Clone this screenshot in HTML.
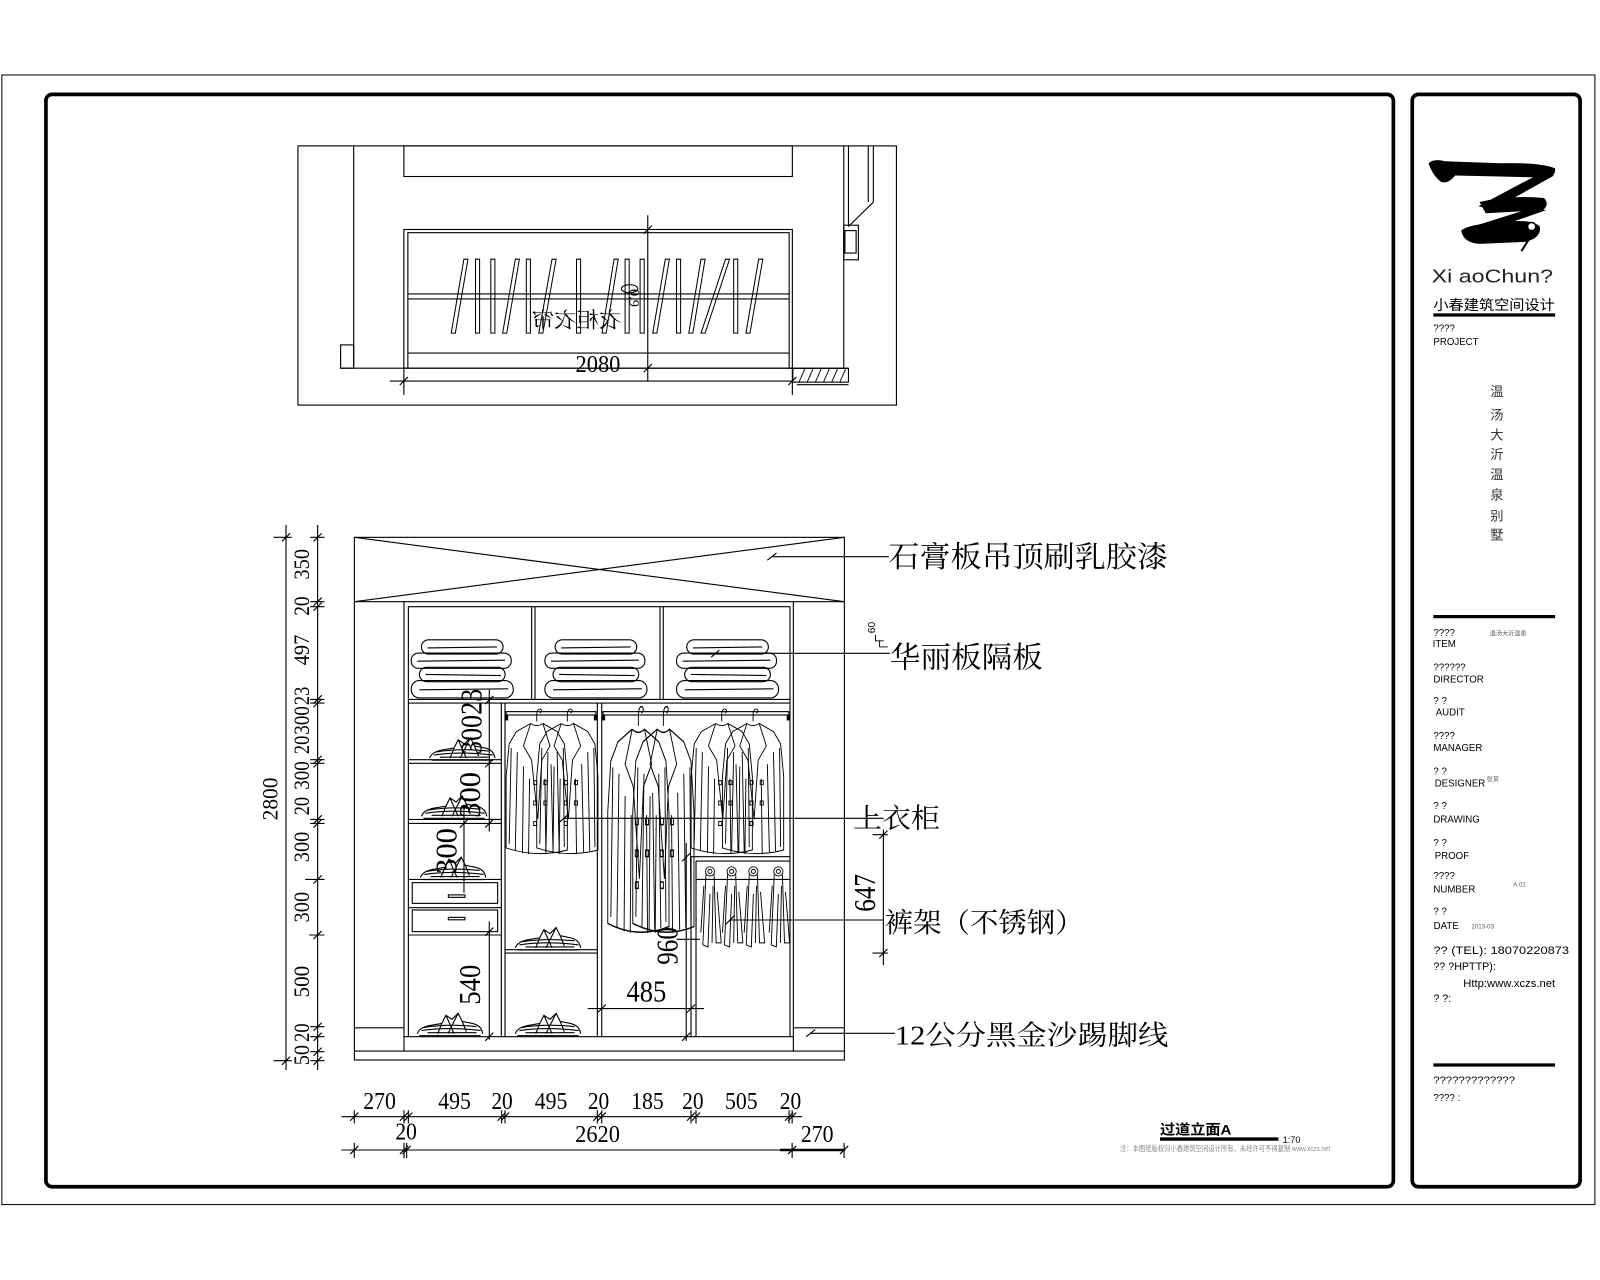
<!DOCTYPE html>
<html><head><meta charset="utf-8">
<style>html,body{margin:0;padding:0;background:#fff;}svg{display:block}</style>
</head><body>
<svg xmlns="http://www.w3.org/2000/svg" xmlns:xlink="http://www.w3.org/1999/xlink" width="1600" height="1280" viewBox="0 0 1568 1254.4">
<defs>
<g id="jk">
<path d="M0,8 L0,2 Q0,-5 4,-4 Q6,-2 3,0"/>
<path d="M-6,10 L-20,18 L-27,30 L-30,62 L-30,132 Q0,142 30,134 L30,62 L27,30 L20,18 L6,10 Q0,14 -6,10"/>
<path d="M-6,10 L-13,32 L-5,46 L1,104 M6,10 L13,32 L5,46 L1,104"/>
<path d="M-25,34 L-27,128 M-19,38 L-21,135 M-13,52 L-14,137 M-7,64 L-8,138 M8,64 L9,138 M14,50 L16,136 M20,38 L22,135 M26,34 L27,131"/>
<path d="M-3,66h3v4h-3z M-3,86h3v4h-3z M-3,106h3v4h-3z M7,66h3v4h-3z M7,86h3v4h-3z"/>
</g>
<g id="pt">
<circle r="4.5"/><circle r="2"/>
<path d="M-4,3 L-7,72 L-2,74 L0,22 M4,3 L6,70 L11,70 L7,20 M-6,14 L-9,60 M3,14 L2,70"/>
</g>
<g id="fs">
<rect x="10" y="0" width="80" height="14" rx="7"/>
<rect x="0" y="13" width="98" height="15" rx="7"/>
<rect x="8" y="27" width="84" height="14" rx="7"/>
<rect x="0" y="40" width="100" height="17" rx="8"/>
<path d="M16,8 L84,7 M6,21 L92,20 M14,34 L88,35 M8,49 L95,48"/>
</g>
<g id="sp">
<path d="M2,24 L62,24 M0,22 Q2,16 12,14 L24,12 L28,4 L34,8 L40,2 L44,10 L54,12 Q63,14 64,22 M4,19 Q30,15 62,19 M6,16 Q30,12 58,15 M24,12 L20,22 M28,4 L36,22 M40,2 L30,22 M44,10 L48,20 M10,21 L58,21"/>
</g>
</defs>

<rect x="0" y="0" width="1568" height="1254.4" fill="#fff"/>

<g fill="none" stroke="#000" stroke-width="1.1">
<!-- frames -->
<rect x="1.8" y="73.5" width="1561.2" height="1107" stroke-width="1"/>
<rect x="45" y="92.5" width="1320.5" height="1070.5" rx="6" stroke-width="3.6"/>
<rect x="1384" y="92.5" width="164.5" height="1070.5" rx="6" stroke-width="3.6"/>

<!-- ============ PLAN ============ -->
<rect x="292" y="143" width="586.5" height="254"/>
<line x1="346.6" y1="143" x2="346.6" y2="360.8"/>
<rect x="333.8" y="338" width="12.8" height="22.8"/>
<line x1="333.8" y1="360.8" x2="831.5" y2="360.8"/>
<rect x="395.8" y="143" width="380.7" height="30"/>
<rect x="395.8" y="224.9" width="380.7" height="135.9"/>
<polyline points="399.7,360.8 399.7,228 773.4,228 773.4,360.8"/>
<line x1="399.7" y1="288" x2="773.4" y2="288"/>
<line x1="399.7" y1="293" x2="773.4" y2="293"/>
<line x1="399.7" y1="346" x2="773.4" y2="346"/>
<!-- hanging bars -->
<g stroke-width="1">
<polygon points="454.6,254 458.6,254 446.2,326.5 442.2,326.5"/>
<polygon points="466,254 470,254 470,326.5 466,326.5"/>
<polygon points="481,254 485,254 485,326.5 481,326.5"/>
<polygon points="505,254 509,254 496.6,326.5 492.6,326.5"/>
<polygon points="515.8,254 519.8,254 519.8,326.5 515.8,326.5"/>
<polygon points="541,254 545,254 532,326.5 528,326.5"/>
<polygon points="565,254 569,254 569,326.5 565,326.5"/>
<polygon points="601.8,254 605.8,254 594,326.5 590,326.5"/>
<polygon points="612.6,254 616.6,254 616.6,326.5 612.6,326.5"/>
<polygon points="627.3,254 631.3,254 631.3,326.5 627.3,326.5"/>
<polygon points="652,254 656,254 643.7,326.5 639.7,326.5"/>
<polygon points="663,254 667,254 667,326.5 663,326.5"/>
<polygon points="687,254 691,254 679,326.5 675,326.5"/>
<polygon points="711,254 715,254 691,326.5 687,326.5"/>
<polygon points="719,254 723,254 723,326.5 719,326.5"/>
<polygon points="743.5,254 747.5,254 735,326.5 731,326.5"/>
</g>
<ellipse cx="617" cy="283" rx="8" ry="4"/>
<!-- plan dims -->
<line x1="382" y1="373.4" x2="777" y2="373.4"/>
<line x1="395.8" y1="360" x2="395.8" y2="387"/>
<line x1="776.5" y1="360" x2="776.5" y2="387"/>
<line x1="634.8" y1="211" x2="634.8" y2="373"/>
<path d="M391.8,377.4L399.8,369.4 M772.5,377.4L780.5,369.4 M630.8,229L638.8,221 M630.8,364.8L638.8,356.8"/>
<!-- plan right side -->
<line x1="826.9" y1="143" x2="826.9" y2="360.8"/>
<line x1="831.5" y1="143" x2="831.5" y2="222"/>
<line x1="850.9" y1="143" x2="850.9" y2="198"/>
<line x1="855.9" y1="143" x2="855.9" y2="198"/>
<line x1="855.9" y1="198" x2="831.5" y2="222"/>
<rect x="826.9" y="220.7" width="14.3" height="33.9"/>
<rect x="828" y="226" width="11" height="22"/>
<rect x="777" y="361" width="54.5" height="13.5"/>
<line x1="781" y1="377" x2="831.5" y2="377"/>
<path d="M783,374.5L789,361 M791,374.5L797,361 M799,374.5L805,361 M807,374.5L813,361 M815,374.5L821,361 M823,374.5L829,361" stroke-width="0.9"/>

<!-- ============ ELEVATION ============ -->
<rect x="347.3" y="526.6" width="480.2" height="512.2"/>
<line x1="347.3" y1="589.6" x2="827.5" y2="589.6"/>
<line x1="347.3" y1="526.6" x2="827.5" y2="589.6"/>
<line x1="347.3" y1="589.6" x2="827.5" y2="526.6"/>
<!-- carcass -->
<line x1="395.9" y1="589.6" x2="395.9" y2="1030"/>
<line x1="400.2" y1="594.5" x2="400.2" y2="1016"/>
<line x1="777.5" y1="589.6" x2="777.5" y2="1030"/>
<line x1="774.2" y1="594.5" x2="774.2" y2="1016"/>
<line x1="400.2" y1="594.5" x2="774.2" y2="594.5"/>
<line x1="395.9" y1="1016" x2="777.5" y2="1016"/>
<line x1="347.3" y1="1030" x2="827.5" y2="1030"/>
<line x1="347.3" y1="1007.3" x2="395.9" y2="1007.3"/>
<line x1="777.5" y1="1007.3" x2="827.5" y2="1007.3"/>
<!-- top compartments -->
<line x1="521" y1="594.5" x2="521" y2="685.4"/>
<line x1="524.3" y1="594.5" x2="524.3" y2="685.4"/>
<line x1="646.8" y1="594.5" x2="646.8" y2="685.4"/>
<line x1="650" y1="594.5" x2="650" y2="685.4"/>
<line x1="400.2" y1="685.4" x2="774.2" y2="685.4"/>
<line x1="400.2" y1="689" x2="774.2" y2="689"/>
<!-- left column -->
<line x1="491.3" y1="689" x2="491.3" y2="1016"/>
<line x1="494.9" y1="689" x2="494.9" y2="1016"/>
<line x1="400.2" y1="744.5" x2="491.3" y2="744.5"/>
<line x1="400.2" y1="748" x2="491.3" y2="748"/>
<line x1="400.2" y1="803" x2="491.3" y2="803"/>
<line x1="400.2" y1="807" x2="491.3" y2="807"/>
<line x1="400.2" y1="861.8" x2="491.3" y2="861.8"/>
<rect x="404" y="865" width="83.7" height="20.3"/>
<line x1="400.2" y1="889.5" x2="491.3" y2="889.5"/>
<rect x="404" y="891.8" width="83.7" height="21.2"/>
<line x1="400.2" y1="916.3" x2="491.3" y2="916.3"/>
<rect x="439.4" y="877" width="16.3" height="2.4"/>
<rect x="439.4" y="899" width="16.3" height="2.4"/>
<!-- middle column -->
<line x1="585.4" y1="689" x2="585.4" y2="1016"/>
<line x1="589.7" y1="689" x2="589.7" y2="1016"/>
<line x1="494.9" y1="930.7" x2="585.4" y2="930.7"/>
<line x1="494.9" y1="934" x2="585.4" y2="934"/>
<!-- rods -->
<rect x="496" y="697.4" width="88" height="3.3"/>
<rect x="591" y="697.4" width="182" height="3.3"/>
<!-- pants box -->
<line x1="677.2" y1="839.5" x2="677.2" y2="1016"/>
<line x1="682.1" y1="843.8" x2="682.1" y2="1016"/>
<line x1="677.2" y1="839.5" x2="774.2" y2="839.5"/>
<line x1="682.1" y1="843.8" x2="774.2" y2="843.8"/>
<line x1="682.1" y1="861.8" x2="774.2" y2="861.8"/>

<!-- folded stacks -->
<use xlink:href="#fs" href="#fs" x="403" y="627"/>
<use xlink:href="#fs" href="#fs" x="534" y="627"/>
<use xlink:href="#fs" href="#fs" x="663" y="627"/>
<!-- shirt piles -->
<use xlink:href="#sp" href="#sp" x="421" y="721"/>
<use xlink:href="#sp" href="#sp" x="413" y="778"/>
<use xlink:href="#sp" href="#sp" x="412" y="838"/>
<use xlink:href="#sp" href="#sp" x="409" y="991"/>
<use xlink:href="#sp" href="#sp" x="505" y="907"/>
<use xlink:href="#sp" href="#sp" x="505" y="991"/>
<!-- jackets & coats -->
<g stroke-width="0.9">
<use xlink:href="#jk" href="#jk" transform="translate(526,699)"/>
<use xlink:href="#jk" href="#jk" transform="translate(556,699)"/>
<use xlink:href="#jk" href="#jk" transform="translate(625.6,699) scale(1,1.56)"/>
<use xlink:href="#jk" href="#jk" transform="translate(650.1,699) scale(1,1.56)"/>
<use xlink:href="#jk" href="#jk" transform="translate(707.3,699)"/>
<use xlink:href="#jk" href="#jk" transform="translate(738,699)"/>
<use xlink:href="#pt" href="#pt" x="695.8" y="854"/>
<use xlink:href="#pt" href="#pt" x="717" y="854"/>
<use xlink:href="#pt" href="#pt" x="738.3" y="854"/>
<use xlink:href="#pt" href="#pt" x="762.8" y="854"/>
</g>

<!-- inner dimension lines -->
<line x1="479.5" y1="676" x2="479.5" y2="815"/>
<line x1="454.7" y1="790" x2="454.7" y2="875"/>
<line x1="479.5" y1="903" x2="479.5" y2="1019"/>
<path d="M475.5,690L483.5,682 M475.5,752L483.5,744 M475.5,811L483.5,803 M450.7,811L458.7,803 M475.5,917L483.5,909 M475.5,1020L483.5,1012"/>
<line x1="576" y1="988.4" x2="690" y2="988.4"/>
<path d="M585.7,992.4L593.7,984.4 M673.2,992.4L681.2,984.4"/>
<line x1="672.5" y1="826" x2="672.5" y2="1020"/>
<path d="M668.5,844L676.5,836 M668.5,1020L676.5,1012"/>
<line x1="663" y1="920.5" x2="686" y2="920.5"/>
<line x1="865.7" y1="813" x2="865.7" y2="946"/>
<path d="M861.7,822L869.7,814 M861.7,938L869.7,930 M855,818L870,818 M855,934L870,934"/>

<!-- leaders -->
<line x1="756" y1="545.5" x2="871" y2="545.5"/>
<path d="M752,549L761,542"/>
<line x1="700" y1="640.3" x2="872" y2="640.3"/>
<path d="M697,644L705,637"/>
<path d="M858,622 L858,628 L866,628 M862,628 L862,634 L870,634" stroke-width="0.9"/>
<line x1="552" y1="802" x2="866" y2="802"/>
<path d="M548,806L557,798"/>
<line x1="715.4" y1="901.6" x2="866" y2="901.6"/>
<path d="M711,906L720,897"/>
<line x1="794" y1="1012.7" x2="877" y2="1012.7"/>
<path d="M790,1016L799,1009"/>

<!-- left dimension chain -->
<line x1="280.3" y1="514.5" x2="280.3" y2="1048.6"/>
<line x1="311.3" y1="514.5" x2="311.3" y2="1048.6"/>
<path d="M276.3,530.6L284.3,522.6 M276.3,1043.5L284.3,1035.5 M268,526.6L286,526.6 M268,1039.5L286,1039.5"/>
<path d="M307.3,530.6L315.3,522.6 M307.3,593.6L315.3,585.6 M307.3,598.5L315.3,590.5 M307.3,689.4L315.3,681.4 M307.3,693L315.3,685 M307.3,748.5L315.3,740.5 M307.3,752L315.3,744 M307.3,807L315.3,799 M307.3,811L315.3,803 M307.3,865.8L315.3,857.8 M307.3,920.3L315.3,912.3 M307.3,1010.2L315.3,1002.2 M307.3,1020L315.3,1012 M307.3,1034.7L315.3,1026.7 M307.3,1043.5L315.3,1035.5"/>
<path d="M304,526.6L318,526.6 M304,589.6L318,589.6 M304,594.5L318,594.5 M304,685.4L318,685.4 M304,689L318,689 M304,744.5L318,744.5 M304,748L318,748 M304,803L318,803 M304,807L318,807 M299,861.8L318,861.8 M303,916.3L318,916.3 M304,1006.2L318,1006.2 M304,1016L318,1016 M304,1030.7L318,1030.7 M304,1039.5L318,1039.5"/>

<!-- bottom dimension rows -->
<line x1="334.6" y1="1094.3" x2="786" y2="1094.3"/>
<path d="M343.2,1098.3L351.2,1090.3 M391.9,1098.3L399.9,1090.3 M396.2,1098.3L404.2,1090.3 M487.6,1098.3L495.6,1090.3 M490.9,1098.3L498.9,1090.3 M581.4,1098.3L589.4,1090.3 M585.7,1098.3L593.7,1090.3 M673.2,1098.3L681.2,1090.3 M678.1,1098.3L686.1,1090.3 M769.3,1098.3L777.3,1090.3 M772.3,1098.3L780.3,1090.3"/>
<path d="M347.2,1088L347.2,1101 M395.9,1088L395.9,1101 M400.2,1088L400.2,1101 M491.6,1088L491.6,1101 M494.9,1088L494.9,1101 M585.4,1088L585.4,1101 M589.7,1088L589.7,1101 M677.2,1088L677.2,1101 M682.1,1088L682.1,1101 M773.3,1088L773.3,1101 M776.3,1088L776.3,1101"/>
<line x1="334.6" y1="1127" x2="828.5" y2="1127"/>
<line x1="764.5" y1="1127" x2="827.2" y2="1127" stroke-width="2.4"/>
<path d="M343.2,1131L351.2,1123 M391.9,1131L399.9,1123 M394.5,1131L402.5,1123 M772.3,1131L780.3,1123 M823.2,1131L831.2,1123"/>
<path d="M347.2,1120L347.2,1135 M395.9,1120L395.9,1135 M398.5,1120L398.5,1135 M776.3,1120L776.3,1135 M827.2,1120L827.2,1135 M390,1127L404,1127"/>

<!-- title block lines -->
<line x1="1404.7" y1="308.7" x2="1524" y2="308.7" stroke-width="3.2"/>
<line x1="1404.7" y1="604.3" x2="1524" y2="604.3" stroke-width="3.2"/>
<line x1="1404.7" y1="1043.7" x2="1524" y2="1043.7" stroke-width="3.2"/>
</g>

<!-- rod brackets -->
<g fill="#000">
<rect x="495" y="701" width="3" height="5"/><rect x="582" y="701" width="3" height="5"/>
<rect x="590" y="701" width="3" height="5"/><rect x="771" y="701" width="3" height="5"/>
<rect x="1136.8" y="1114.6" width="116" height="3.3"/>
</g>

<!-- logo brush -->
<g fill="#000">
<path d="M1400,160 Q1405,155 1416,158 L1470,160 Q1510,159 1524,165 Q1525,173 1515,174 L1470,173 L1426,172 Q1419,181 1412,178 Q1404,172 1400,160 Z"/>
<path d="M1511,169 L1523,172 L1462,206 L1449,202 Z"/>
<path d="M1450,198 Q1480,191 1513,194 Q1519,200 1512,206 L1456,209 Z"/>
<path d="M1504,203 L1515,206 L1449,229 L1437,224 Z"/>
<path d="M1432,226 Q1440,219 1480,217 Q1502,215 1509,222 Q1511,233 1495,237 L1450,239 Q1434,238 1432,226 Z"/>
</g>
<circle cx="1501" cy="222" r="4" fill="#fff" stroke="#000" stroke-width="1.5"/>
<path d="M1500,232 L1491,246" stroke="#000" stroke-width="2" fill="none"/>

<!-- ============ TEXT ============ -->
<g font-family="'Liberation Serif', serif" fill="#000">
<!-- plan -->
<text x="586" y="364.7" font-size="24" text-anchor="middle" textLength="44" lengthAdjust="spacingAndGlyphs">2080</text>
<text transform="translate(609,321) scale(-1,1)" font-size="21" textLength="88" lengthAdjust="spacingAndGlyphs" font-family="'Liberation Serif','Noto Serif CJK SC',serif">衣柜衣帘</text>
<text transform="translate(617,292) rotate(90)" font-size="14" text-anchor="middle">0.9</text>

<!-- left chain labels (rotated) -->
<g font-size="22">
<text transform="translate(295.5,553) rotate(-90)" y="7.5" text-anchor="middle" textLength="30" lengthAdjust="spacingAndGlyphs">350</text>
<text transform="translate(295.5,594) rotate(-90)" y="7.5" text-anchor="middle" textLength="19" lengthAdjust="spacingAndGlyphs">20</text>
<text transform="translate(295.5,637) rotate(-90)" y="7.5" text-anchor="middle" textLength="30" lengthAdjust="spacingAndGlyphs">497</text>
<text transform="translate(295.5,682) rotate(-90)" y="7.5" text-anchor="middle" textLength="18" lengthAdjust="spacingAndGlyphs">23</text>
<text transform="translate(295.5,706) rotate(-90)" y="7.5" text-anchor="middle" textLength="28" lengthAdjust="spacingAndGlyphs">300</text>
<text transform="translate(295.5,730) rotate(-90)" y="7.5" text-anchor="middle" textLength="18" lengthAdjust="spacingAndGlyphs">20</text>
<text transform="translate(295.5,760) rotate(-90)" y="7.5" text-anchor="middle" textLength="28" lengthAdjust="spacingAndGlyphs">300</text>
<text transform="translate(295.5,790) rotate(-90)" y="7.5" text-anchor="middle" textLength="18" lengthAdjust="spacingAndGlyphs">20</text>
<text transform="translate(295.5,830) rotate(-90)" y="7.5" text-anchor="middle" textLength="30" lengthAdjust="spacingAndGlyphs">300</text>
<text transform="translate(295.5,889) rotate(-90)" y="7.5" text-anchor="middle" textLength="30" lengthAdjust="spacingAndGlyphs">300</text>
<text transform="translate(295.5,962) rotate(-90)" y="7.5" text-anchor="middle" textLength="31" lengthAdjust="spacingAndGlyphs">500</text>
<text transform="translate(295.5,1012) rotate(-90)" y="7.5" text-anchor="middle" textLength="18" lengthAdjust="spacingAndGlyphs">20</text>
<text transform="translate(295.5,1034) rotate(-90)" y="7.5" text-anchor="middle" textLength="20" lengthAdjust="spacingAndGlyphs">50</text>
<text transform="translate(264.6,783) rotate(-90)" y="7.5" text-anchor="middle" textLength="42" lengthAdjust="spacingAndGlyphs">2800</text>
</g>

<!-- inner rotated dims -->
<g font-size="30">
<text transform="translate(462,707) rotate(-90)" y="10" text-anchor="middle" textLength="64" lengthAdjust="spacingAndGlyphs">30023</text>
<text transform="translate(460.5,779) rotate(-90)" y="10" text-anchor="middle" textLength="45" lengthAdjust="spacingAndGlyphs">300</text>
<text transform="translate(437.5,834) rotate(-90)" y="10" text-anchor="middle" textLength="45" lengthAdjust="spacingAndGlyphs">300</text>
<text transform="translate(460.5,965) rotate(-90)" y="10" text-anchor="middle" textLength="39" lengthAdjust="spacingAndGlyphs">540</text>
<text transform="translate(654,927) rotate(-90)" y="10" text-anchor="middle" textLength="37" lengthAdjust="spacingAndGlyphs">960</text>
<text transform="translate(847.5,875) rotate(-90)" y="10" text-anchor="middle" textLength="37" lengthAdjust="spacingAndGlyphs">647</text>
<text x="633.5" y="981.6" text-anchor="middle" textLength="39" lengthAdjust="spacingAndGlyphs">485</text>
</g>

<!-- bottom labels -->
<g font-size="24" text-anchor="middle">
<text x="372" y="1087" textLength="32" lengthAdjust="spacingAndGlyphs">270</text>
<text x="445.5" y="1087" textLength="32" lengthAdjust="spacingAndGlyphs">495</text>
<text x="492" y="1087" textLength="21" lengthAdjust="spacingAndGlyphs">20</text>
<text x="540" y="1087" textLength="32" lengthAdjust="spacingAndGlyphs">495</text>
<text x="586.6" y="1087" textLength="21" lengthAdjust="spacingAndGlyphs">20</text>
<text x="634.5" y="1087" textLength="32" lengthAdjust="spacingAndGlyphs">185</text>
<text x="679" y="1087" textLength="21" lengthAdjust="spacingAndGlyphs">20</text>
<text x="726.5" y="1087" textLength="32" lengthAdjust="spacingAndGlyphs">505</text>
<text x="774.7" y="1087" textLength="21" lengthAdjust="spacingAndGlyphs">20</text>
<text x="398" y="1116.5" textLength="21" lengthAdjust="spacingAndGlyphs">20</text>
<text x="585.6" y="1119" textLength="44" lengthAdjust="spacingAndGlyphs">2620</text>
<text x="800.8" y="1119" textLength="32" lengthAdjust="spacingAndGlyphs">270</text>
</g>

<!-- callout labels -->
<g font-family="'Liberation Serif','Noto Serif CJK SC',serif" font-size="29">
<text x="870.6" y="555.5" textLength="274" lengthAdjust="spacingAndGlyphs">石膏板吊顶刷乳胶漆</text>
<text x="872" y="654" textLength="150" lengthAdjust="spacingAndGlyphs">华丽板隔板</text>
<text x="836" y="811" textLength="85" lengthAdjust="spacingAndGlyphs" font-size="27">上衣柜</text>
<text x="867" y="913.5" textLength="195" lengthAdjust="spacingAndGlyphs" font-size="27">裤架（不锈钢）</text>
<text x="877" y="1023.5" textLength="268" lengthAdjust="spacingAndGlyphs" font-size="27">12公分黑金沙踢脚线</text>
</g>
<text transform="translate(854.5,615) rotate(-90)" y="3" font-size="10" text-anchor="middle" font-family="'Liberation Sans',sans-serif">60</text>
</g>

<!-- title block text -->
<g font-family="'Liberation Sans','Noto Sans CJK SC',sans-serif" fill="#000">
<text x="1403" y="277" font-size="18" textLength="119" lengthAdjust="spacingAndGlyphs" fill="#222">Xi aoChun?</text>
<text x="1404.7" y="304" font-size="14" textLength="119" lengthAdjust="spacingAndGlyphs">小春建筑空间设计</text>
<g font-size="9.5">
<text x="1404.7" y="325">????</text>
<text x="1404.7" y="338">PROJECT</text>
<text x="1404.7" y="623.5">????</text>
<text x="1404" y="634">ITEM</text>
<text x="1404.7" y="657">??????</text>
<text x="1404.7" y="669">DIRECTOR</text>
<text x="1404.7" y="690">?   ?</text>
<text x="1407" y="701">AUDIT</text>
<text x="1404.7" y="724">????</text>
<text x="1404.7" y="736">MANAGER</text>
<text x="1404.7" y="759">?   ?</text>
<text x="1406" y="771">DESIGNER</text>
<text x="1404.7" y="793">?   ?</text>
<text x="1404.7" y="806">DRAWING</text>
<text x="1404.7" y="829">?   ?</text>
<text x="1406" y="842">PROOF</text>
<text x="1404.7" y="861.5">????</text>
<text x="1404.7" y="874.6">NUMBER</text>
<text x="1404.7" y="896">?   ?</text>
<text x="1405" y="910.5">DATE</text>
</g>
<g font-size="6" fill="#555">
<text x="1460" y="623">温汤大沂温泉</text>
<text x="1457" y="766">张某</text>
<text x="1483" y="869">A.01</text>
<text x="1442" y="910">2013-03</text>
</g>
<g font-size="10.5">
<text x="1404.7" y="935" textLength="133" lengthAdjust="spacingAndGlyphs">??    (TEL):  18070220873</text>
<text x="1404.7" y="950.5">??   ?HPTTP):</text>
<text x="1434" y="967.5" textLength="90" lengthAdjust="spacingAndGlyphs">Http:www.xczs.net</text>
<text x="1404.7" y="982">?    ?:</text>
<text x="1404.7" y="1062" textLength="80" lengthAdjust="spacingAndGlyphs" font-size="9.5">?????????????</text>
<text x="1404.7" y="1079" font-size="9.5">????      :</text>
</g>
<g font-size="13" fill="#333" text-anchor="middle">
<text x="1467" y="388">温</text>
<text x="1467" y="411">汤</text>
<text x="1467" y="430.5">大</text>
<text x="1467" y="450">沂</text>
<text x="1467" y="469.5">温</text>
<text x="1467" y="489.5">泉</text>
<text x="1467" y="510">别</text>
<text x="1467" y="528.5">墅</text>
</g>
<text x="1136.8" y="1112" font-size="14" font-weight="bold" textLength="70" lengthAdjust="spacingAndGlyphs">过道立面A</text>
<text x="1257" y="1120" font-size="9">1:70</text>
<text x="1097.6" y="1128" font-size="7" fill="#888" textLength="206" lengthAdjust="spacingAndGlyphs">注：本图纸版权归小春建筑空间设计所有，未经许可不得复制 www.xczs.net</text>
</g>
</svg>
</body></html>
